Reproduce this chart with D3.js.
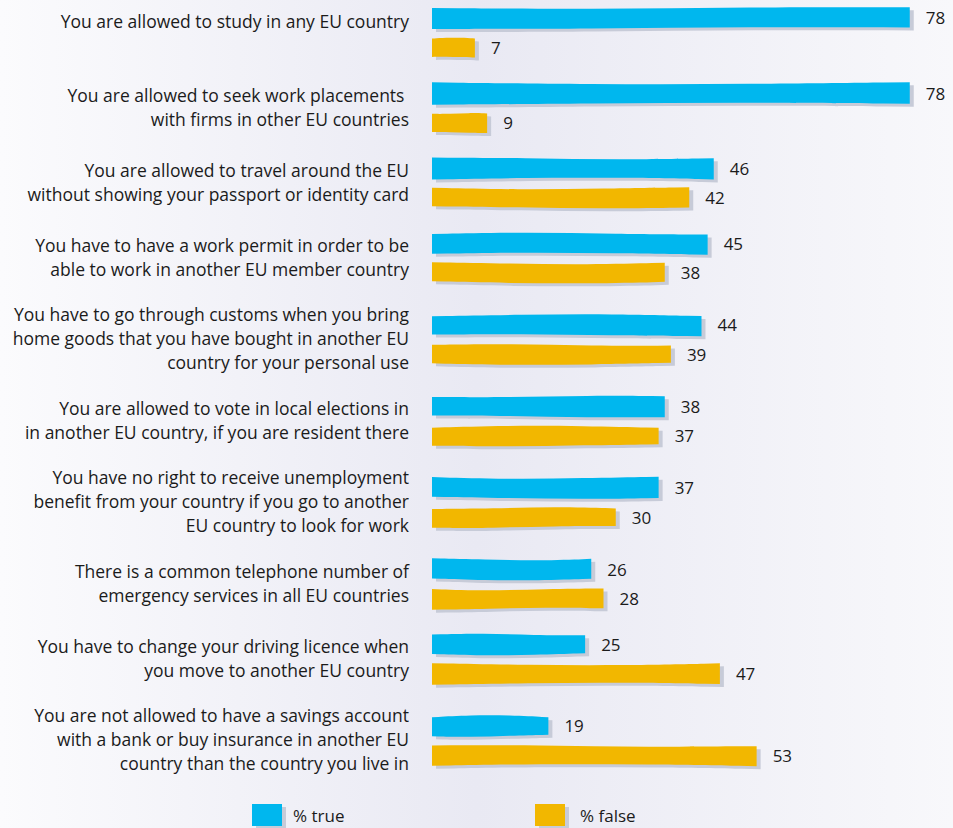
<!DOCTYPE html>
<html>
  <head>
      <title>EU rights quiz</title>
      <script src="https://cdn.jsdelivr.net/npm/d3@7"></script>
      <style>
        body { margin: 0; }
        text { font-family: "Open Sans", sans-serif; fill: #1b1b1b; }
      </style>
  </head>
  <body>
        <div></div>
        <script>
           var statements = [
             ["You are allowed to study in any EU country"],
             ["You are allowed to seek work placements ", "with firms in other EU countries"],
             ["You are allowed to travel around the EU", "without showing your passport or identity card"],
             ["You have to have a work permit in order to be", "able to work in another EU member country"],
             ["You have to go through customs when you bring", "home goods that you have bought in another EU", "country for your personal use"],
             ["You are allowed to vote in local elections in", "in another EU country, if you are resident there"],
             ["You have no right to receive unemployment", "benefit from your country if you go to another", "EU country to look for work"],
             ["There is a common telephone number of", "emergency services in all EU countries"],
             ["You have to change your driving licence when", "you move to another EU country"],
             ["You are not allowed to have a savings account", "with a bank or buy insurance in another EU", "country than the country you live in"]
           ]
           var pct_true = [78, 78, 46, 45, 44, 38, 37, 26, 25, 19]
           var pct_false = [7, 9, 42, 38, 39, 37, 30, 28, 47, 53]
           var series_names = ["% true", "% false"]
           var series_colors = ["#00b7ee", "#f2b700"]

           var W = 953, H = 828
           var svg = d3.select("div").append("svg").attr("width", W).attr("height", H)

           // background wash
           var defs = svg.append("defs")
           var grad = defs.append("linearGradient").attr("id", "bg").attr("x1", "0").attr("x2", "1").attr("y1", "0").attr("y2", "0")
           grad.append("stop").attr("offset", "0").attr("stop-color", "#fbfbfd")
           grad.append("stop").attr("offset", "0.5").attr("stop-color", "#e9e9f3")
           grad.append("stop").attr("offset", "1").attr("stop-color", "#f8f8fb")
           svg.append("rect").attr("width", W).attr("height", H).attr("fill", "url(#bg)")

           // group heights depend on number of label lines
           var line_h = {1: 76, 2: 75, 3: 88}
           var offsets = []
           var acc = 0
           statements.forEach((s, i) => {
             var h = line_h[s.length]
             offsets.push(acc + h / 2)
             acc += h
           })
           var y = d3.scaleLinear().domain([offsets[0], offsets[0] + 1]).range([32, 33])
           var x = d3.scaleLinear().domain([0, 80]).range([432, 922])

           // slightly uneven brush-stroke bar
           var wobble = (x0, x1, yTop, h, seed) => {
             var n = 3, top = [], bot = []
             for (var k = 0; k <= n; k++) {
               var xx = x0 + (x1 - x0) * k / n
               var amp = Math.min(1.3, (x1 - x0) / 80)
               top.push([xx, yTop + amp * Math.sin(seed * 1.7 + k * 1.9)])
               bot.push([xx, yTop + h + amp * Math.sin(seed * 2.3 + k * 1.6 + 1)])
             }
             var line = d3.line().curve(d3.curveBasis)
             var p = line(top)
             var b = line(bot.reverse())
             return p + "L" + b.slice(1) + "Z"
           }

           var groups = svg.selectAll("g.row").data(statements).enter().append("g").attr("class", "row")

           groups.append("text")
             .attr("text-anchor", "end")
             .attr("font-size", 17.5)
             .each(function (d, i) {
               var c = y(offsets[i]) - (d.length == 1 ? 10 : 0)
               var t = d3.select(this)
               d.forEach((line, j) => {
                 t.append("tspan").attr("x", 409).attr("y", c + (j - (d.length - 1) / 2) * 24 + 6).text(line)
               })
             })

           var bars = [
             { vals: pct_true, dy: -24, h: 20, col: series_colors[0] },
             { vals: pct_false, dy: 6, h: 19, col: series_colors[1] }
           ]
           bars.forEach((b, si) => {
             groups.append("path")
               .attr("d", (d, i) => wobble(x(0), x(b.vals[i]), y(offsets[i]) + b.dy, b.h, i * 3 + si))
               .attr("transform", "translate(4,3)")
               .attr("fill", "#c7cbd8")
             groups.append("path")
               .attr("d", (d, i) => wobble(x(0), x(b.vals[i]), y(offsets[i]) + b.dy, b.h, i * 3 + si))
               .attr("fill", b.col)
             groups.append("text")
               .attr("x", (d, i) => x(b.vals[i]) + 16)
               .attr("y", (d, i) => y(offsets[i]) + b.dy + b.h / 2 + 6)
               .attr("font-size", 17)
               .text((d, i) => b.vals[i])
           })

           // legend
           var leg = svg.selectAll("g.leg").data(series_names).enter().append("g").attr("class", "leg")
             .attr("transform", (d, i) => "translate(" + [252, 535][i] + ",804)")
           leg.append("rect").attr("x", 4).attr("y", 3).attr("width", 30).attr("height", 24).attr("fill", "#c7cbd8")
           leg.append("rect").attr("width", 30).attr("height", 22).attr("fill", (d, i) => series_colors[i])
           leg.append("text").attr("x", (d, i) => [41, 45][i]).attr("y", 18).attr("font-size", 17).text(d => d)
        </script>
  </body>
</html>
